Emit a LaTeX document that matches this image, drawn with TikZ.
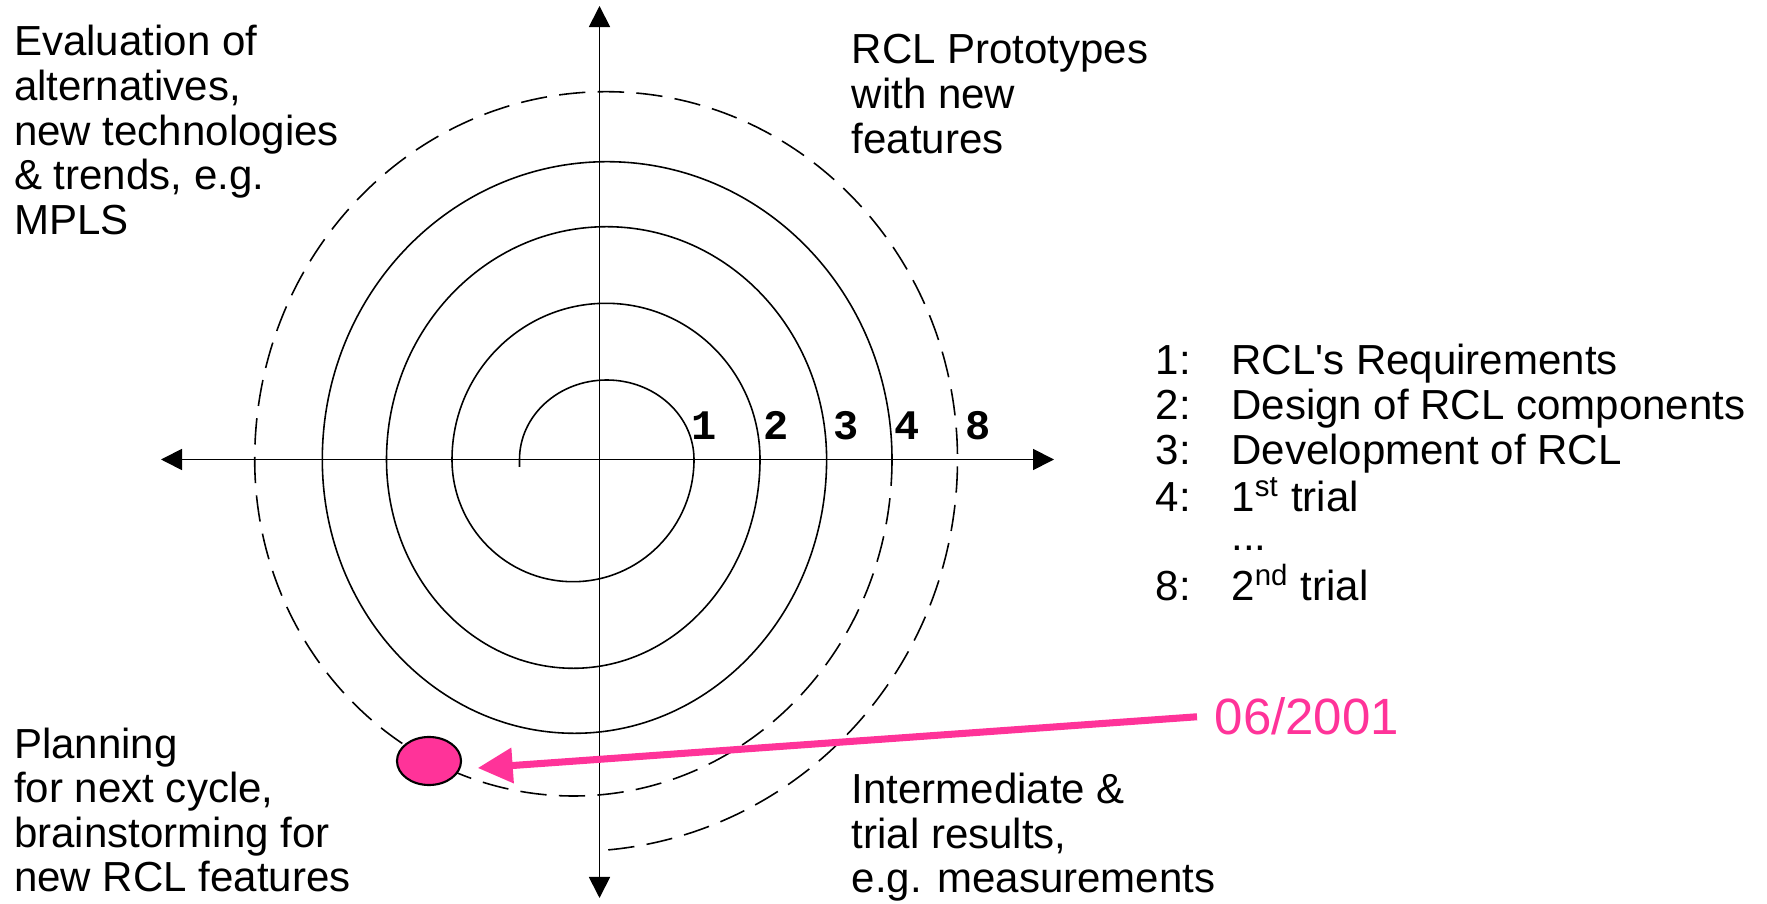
\documentclass[tikz,border=0pt]{standalone}
\usepackage{fontspec}
\setmainfont{Liberation Sans}[Ligatures=TeXOff]
\setmonofont{Liberation Mono}
\usetikzlibrary{arrows.meta,shapes.geometric}
\definecolor{hotpink}{RGB}{255,51,153}
\newcommand{\mytxt}{\fontsize{11.95}{12.69}\selectfont}
\begin{document}
\begin{tikzpicture}[x=0.01cm,y=0.01cm,
  axis/.style={line width=0.5pt,{Triangle[length=0.21cm,width=0.21cm]}-{Triangle[length=0.21cm,width=0.21cm]}},
  spir/.style={line width=0.45pt},
  dsh/.style={line width=0.45pt,dash pattern=on 7.5pt off 3.5pt},
  lbl/.style={anchor=base west,inner sep=0pt,font=\mytxt},
  num/.style={anchor=base,inner sep=0pt,font=\mytxt\ttfamily\bfseries},
]
\useasboundingbox (0,0) rectangle (1767,903);
% axes
\coordinate (hl) at (161,443.5);
\coordinate (hr) at (1054,443.5);
\coordinate (vt) at (599.5,897);
\coordinate (vb) at (599.5,5);
\draw[axis] (hl) -- (hr);
\draw[axis] (vb) -- (vt);
% spiral (solid part)
\draw[spir] (519.5,436) -- (519.5,443.5)
  arc[start angle=180,end angle=0,x radius=87.25,y radius=79.5]
  arc[start angle=0,end angle=-180,x radius=121,y radius=122.2]
  arc[start angle=180,end angle=0,x radius=154,y radius=156.2]
  arc[start angle=0,end angle=-180,x radius=186.75,y radius=208.8]
  arc[start angle=180,end angle=0,x radius=220.05,y radius=232.8]
  arc[start angle=0,end angle=-180,x radius=252.15,y radius=273.8]
  arc[start angle=180,end angle=0,x radius=284.85,y radius=297.8];
% spiral (dashed part)
\draw[dsh] (892,443.5)
  arc[start angle=0,end angle=-180,x radius=318.65,y radius=336.5]
  arc[start angle=180,end angle=0,x radius=351.4,y radius=367.8]
  arc[start angle=0,end angle=-86.04,x radius=384,y radius=392];
% cycle numbers
\node[num] (n1) at (704,463.7) {1};
\node[num] (n2) at (775.6,463.7) {2};
\node[num] (n3) at (846,463.7) {3};
\node[num] (n4) at (907.5,463.7) {4};
\node[num] (n8) at (978,463.7) {8};
% quadrant texts
\node[lbl] (eval) at (13.5,847) {\begin{tabular}[t]{@{}l@{}}Evaluation of\\alternatives,\\new technologies\\\& trends, e.g.\\MPLS\end{tabular}};
\node[lbl] (proto) at (851,839) {\begin{tabular}[t]{@{}l@{}}RCL Prototypes\\with new\\features\end{tabular}};
\node[lbl] (plan) at (13.5,145) {\begin{tabular}[t]{@{}l@{}}Planning\\for next cycle,\\brainstorming for\\new RCL features\end{tabular}};
\node[lbl] (inter) at (851,99.5) {\begin{tabular}[t]{@{}l@{}}Intermediate \&\\trial results,\\e.g. measurements\end{tabular}};
% legend
\node[lbl] (legend) at (1155,528) {\begin{tabular}[t]{@{}p{0.757cm}@{}l@{}}1:&RCL's Requirements\\2:&Design of RCL components\\3:&Development of RCL\\4:&1\textsuperscript{st} trial\\[-1.6pt]&...\\8:&2\textsuperscript{nd} trial\end{tabular}};
% date marker
\node[anchor=base west,inner xsep=0.17cm,inner ysep=0pt,font=\fontsize{14.5}{16}\selectfont,text=hotpink] (date) at (1197,168) {06/2001};
\node[ellipse,draw,line width=0.6pt,fill=hotpink,minimum width=0.64cm,minimum height=0.48cm,inner sep=0pt] (dot) at (429,142) {};
\coordinate (tip) at (477.7,135);
\draw[hotpink,line width=2pt,-{Triangle[length=0.35cm,width=0.34cm]}] (date.west) -- (tip);
\end{tikzpicture}
\end{document}
